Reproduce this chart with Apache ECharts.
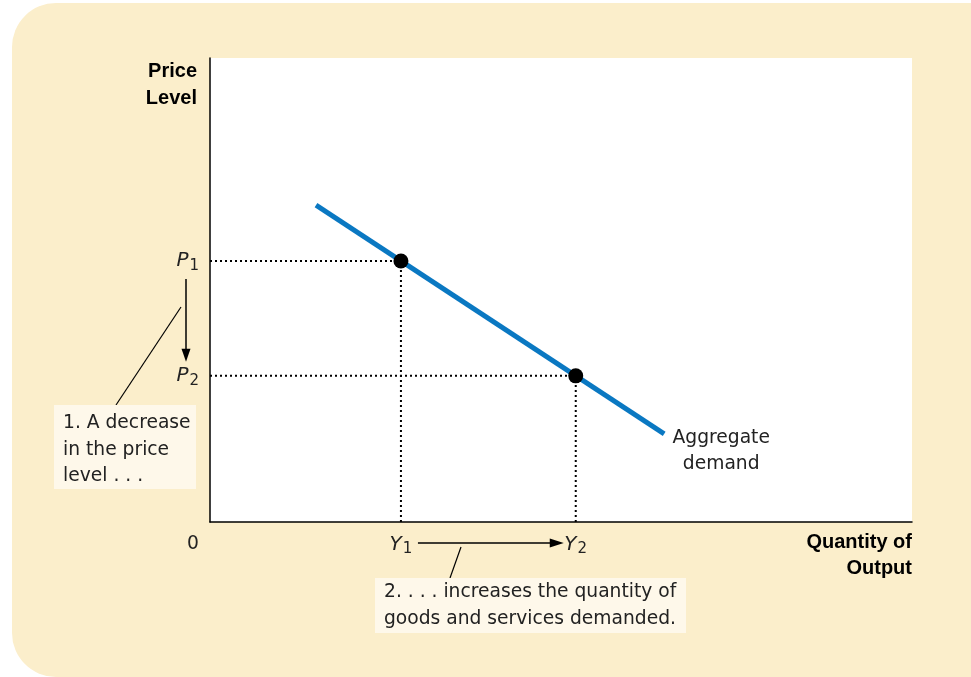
<!DOCTYPE html>
<html>
<head>
<meta charset="utf-8"/>
<title>Aggregate demand</title>
<script src="https://cdn.jsdelivr.net/npm/echarts@6/dist/echarts.min.js"></script>
<style>
  html, body { margin:0; padding:0; background:#fff; }
  #main { width:971px; height:677px; }
</style>
</head>
<body>
<div id="main"></div>
<script>
// demand curve endpoints (x = quantity, y = price level), 0..100 scale
var demandX = [15.1, 64.7];
var demandY = [68.3, 19.0];
// the two equilibrium points
var pointNames = ['1', '2'];
var pointX = [27.2, 52.1];
var pointY = [56.25, 31.5];

var fontFam = '"DejaVu Sans", sans-serif';
var boldFam = '"Liberation Sans", Arial, sans-serif';

var chart = echarts.init(document.getElementById('main'));

function guide(i) {
  return [[0, pointY[i]], [pointX[i], pointY[i]], [pointX[i], 0]];
}

var subRich = {
  v: { fontFamily: fontFam, fontStyle: 'italic', fontSize: 20, color: '#222' },
  s: { fontFamily: fontFam, fontSize: 15, color: '#222', padding: [10, 0, 0, 1] }
};

var option = {
  backgroundColor: 'transparent',
  animation: false,
  grid: { left: 210, top: 58, width: 702, height: 464, show: true, backgroundColor: '#ffffff', borderWidth: 0 },
  xAxis: {
    type: 'value', min: 0, max: 100,
    axisLine: { show: true, lineStyle: { color: '#000', width: 1.5 } },
    axisTick: { show: false },
    splitLine: { show: false },
    axisLabel: {
      customValues: pointX,
      margin: 10,
      formatter: function (v) {
        var i = pointX.indexOf(v);
        return '{v|Y}{s|' + pointNames[i] + '}';
      },
      rich: subRich
    }
  },
  yAxis: {
    type: 'value', min: 0, max: 100,
    axisLine: { show: true, lineStyle: { color: '#000', width: 1.5 } },
    axisTick: { show: false },
    splitLine: { show: false },
    axisLabel: {
      customValues: pointY,
      margin: 11,
      formatter: function (v) {
        var i = pointY.indexOf(v);
        return '{v|P}{s|' + pointNames[i] + '}';
      },
      rich: subRich
    }
  },
  series: [
    {
      type: 'line', data: guide(0), symbol: 'none', silent: true,
      lineStyle: { color: '#000', width: 2, type: [2, 3] }
    },
    {
      type: 'line', data: guide(1), symbol: 'none', silent: true,
      lineStyle: { color: '#000', width: 2, type: [2, 3] }
    },
    {
      type: 'line', symbol: 'none', z: 3,
      data: [[demandX[0], demandY[0]], [demandX[1], demandY[1]]],
      lineStyle: { color: '#0a78c2', width: 5, cap: 'butt' }
    },
    {
      type: 'scatter', symbolSize: 15, z: 10,
      itemStyle: { color: '#000', opacity: 1 },
      data: pointX.map(function (x, i) { return [x, pointY[i]]; })
    }
  ]
};
chart.setOption(option);

// annotations placed relative to the axes
var p0 = chart.convertToPixel({ gridIndex: 0 }, [0, 0]);
var p1 = chart.convertToPixel({ gridIndex: 0 }, [pointX[0], pointY[0]]);
var p2 = chart.convertToPixel({ gridIndex: 0 }, [pointX[1], pointY[1]]);
var pe = chart.convertToPixel({ gridIndex: 0 }, [demandX[1], demandY[1]]);
var right = chart.convertToPixel({ gridIndex: 0 }, [100, 100]);

var txt = { fontFamily: fontFam, fontSize: 18.7, fill: '#222' };
var bold = { fontFamily: boldFam, fontSize: 20, fontWeight: 'bold', fill: '#000' };
var arrowY = p0[1] + 21;

chart.setOption({
  graphic: [
    { type: 'rect', z: -10, shape: { x: 12, y: 3, width: 1000, height: 674, r: 44 }, style: { fill: '#fbeecb' } },
    { type: 'text', style: Object.assign({ text: 'Price\nLevel', x: p0[0] - 13, y: 58, align: 'right', lineHeight: 27 }, bold) },
    { type: 'text', style: Object.assign({ text: 'Quantity of\nOutput', x: right[0], y: p0[1] + 7, align: 'right', lineHeight: 26 }, bold) },
    { type: 'text', style: Object.assign({ text: '0', x: p0[0] - 17, y: p0[1] + 13, align: 'center' }, txt) },
    // P1 -> P2 arrow
    { type: 'line', shape: { x1: p0[0] - 24, y1: p1[1] + 18, x2: p0[0] - 24, y2: p2[1] - 18 }, style: { stroke: '#000', lineWidth: 1.5 } },
    { type: 'polygon', shape: { points: [[p0[0] - 28.5, p2[1] - 27], [p0[0] - 19.5, p2[1] - 27], [p0[0] - 24, p2[1] - 14]] }, style: { fill: '#000' } },
    // Y1 -> Y2 arrow
    { type: 'line', shape: { x1: p1[0] + 17, y1: arrowY, x2: p2[0] - 22, y2: arrowY }, style: { stroke: '#000', lineWidth: 1.5 } },
    { type: 'polygon', shape: { points: [[p2[0] - 26, arrowY - 4.5], [p2[0] - 26, arrowY + 4.5], [p2[0] - 12, arrowY]] }, style: { fill: '#000' } },
    // note 1
    { type: 'line', shape: { x1: 181, y1: 307, x2: 116, y2: 405 }, style: { stroke: '#000', lineWidth: 1.2 } },
    { type: 'rect', shape: { x: 54, y: 405, width: 142, height: 84 }, style: { fill: '#fef8ea' } },
    { type: 'text', style: Object.assign({ text: '1. A decrease\nin the price\nlevel . . .', x: 63, y: 410, lineHeight: 26.5 }, txt) },
    // note 2
    { type: 'line', shape: { x1: 461, y1: 547, x2: 450, y2: 578 }, style: { stroke: '#000', lineWidth: 1.2 } },
    { type: 'rect', shape: { x: 375, y: 578, width: 311, height: 55 }, style: { fill: '#fef8ea' } },
    { type: 'text', style: Object.assign({ text: '2. . . . increases the quantity of\ngoods and services demanded.', x: 384, y: 579, lineHeight: 27 }, txt) },
    // curve label
    { type: 'text', style: Object.assign({ text: 'Aggregate\ndemand', x: pe[0] + 57, y: pe[1] - 9, align: 'center', lineHeight: 26 }, txt) }
  ]
});
</script>
</body>
</html>
